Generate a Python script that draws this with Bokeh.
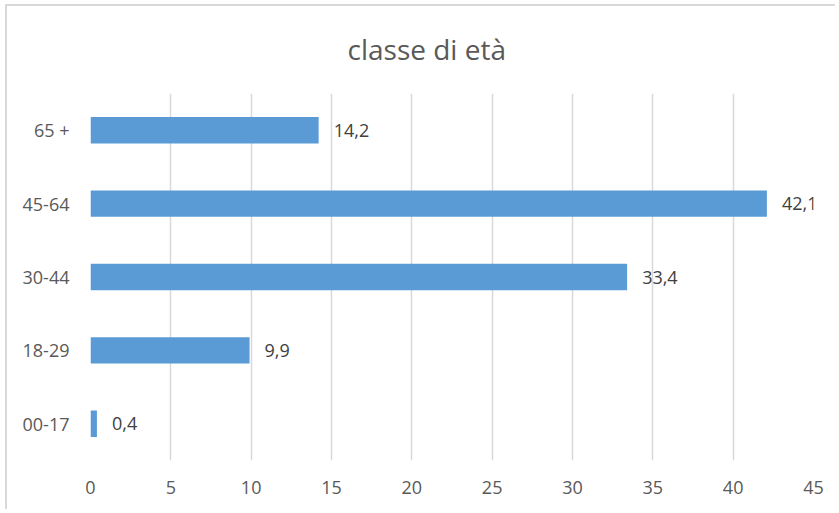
from bokeh.plotting import figure
from bokeh.models import FactorRange, Range1d, ColumnDataSource, FixedTicker, Title
from bokeh.core.properties import value
from bokeh.embed import file_html
from bokeh.resources import INLINE

categories = ["00-17", "18-29", "30-44", "45-64", "65 +"]
values = [0.4, 9.9, 33.4, 42.1, 14.2]
x_ticks = [0, 5, 10, 15, 20, 25, 30, 35, 40, 45]
title_text = "classe di età"

labels = [f"{v:.1f}".replace(".", ",") for v in values]
src = ColumnDataSource(dict(cat=categories, val=values, lab=labels))

FONT = "Open Sans"

p = figure(
    width=830, height=505,
    y_range=FactorRange(factors=categories),
    x_range=Range1d(0, 45),
    output_backend="svg", toolbar_location=None,
    min_border_left=83, min_border_right=24, min_border_top=0, min_border_bottom=51,
)
p.margin = (4, 0, 0, 5)
p.styles = {"border-left": "2px solid #d9d9d9", "border-top": "2px solid #d9d9d9"}

t = Title(text=title_text, align="left", offset=257, standoff=47, vertical_align="top",
          text_font=FONT, text_font_size="28px", text_font_style="normal",
          text_color="#595959")
p.add_layout(t, "above")

p.hbar(y="cat", right="val", left=0, height=0.36, source=src,
       fill_color="#5B9BD5", line_color=None)
p.text(x="val", y="cat", text="lab", source=src, x_offset=15,
       text_baseline="middle", text_align="left",
       text_font=value(FONT), text_font_size="18px", text_color="#404040")

p.xaxis.ticker = FixedTicker(ticks=x_ticks)
for ax in (p.xaxis, p.yaxis):
    ax.axis_line_color = None
    ax.major_tick_line_color = None
    ax.minor_tick_line_color = None
    ax.major_label_text_font = FONT
    ax.major_label_text_font_size = "18px"
    ax.major_label_text_color = "#595959"
p.xaxis.major_label_standoff = 14
p.yaxis.major_label_standoff = 15

p.xgrid.grid_line_color = "#d9d9d9"
p.xgrid.grid_line_width = 1.5
p.ygrid.grid_line_color = None
p.outline_line_color = None
p.background_fill_color = "white"
p.border_fill_color = "white"

open("out.html", "w").write(file_html(p, INLINE))
